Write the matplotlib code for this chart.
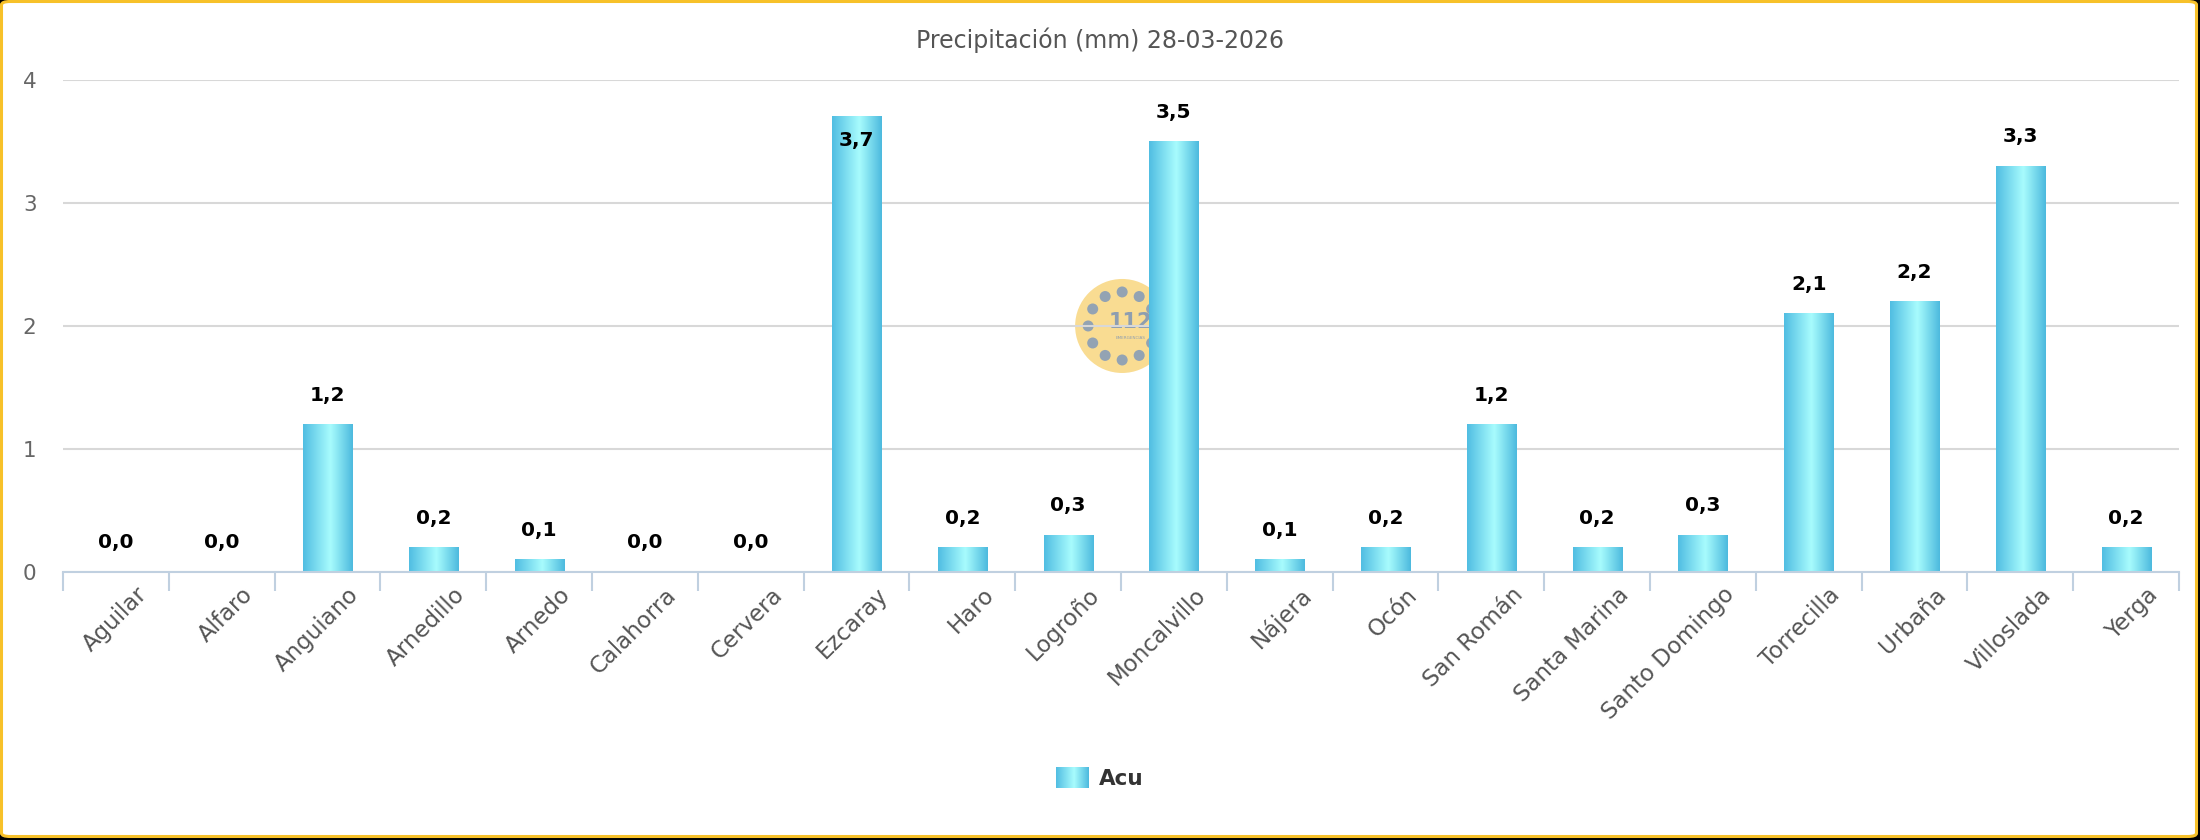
import numpy as np
import matplotlib
matplotlib.use("Agg")
import matplotlib.pyplot as plt
from matplotlib.colors import LinearSegmentedColormap
from matplotlib.patches import Rectangle, FancyBboxPatch, Circle
from matplotlib.legend_handler import HandlerBase
from matplotlib.image import BboxImage
from matplotlib.transforms import Bbox, TransformedBbox, ScaledTranslation

estaciones = ["Aguilar", "Alfaro", "Anguiano", "Arnedillo", "Arnedo", "Calahorra",
              "Cervera", "Ezcaray", "Haro", "Logroño", "Moncalvillo", "Nájera",
              "Ocón", "San Román", "Santa Marina", "Santo Domingo", "Torrecilla",
              "Urbaña", "Villoslada", "Yerga"]
acu = [0.0, 0.0, 1.2, 0.2, 0.1, 0.0, 0.0, 3.7, 0.2, 0.3, 3.5, 0.1,
       0.2, 1.2, 0.2, 0.3, 2.1, 2.2, 3.3, 0.2]
yticks = [0, 1, 2, 3, 4]
titulo = "Precipitación (mm) 28-03-2026"
serie = "Acu"

W, H, DPI = 2200, 840, 100
plt.rcParams['font.family'] = ['DejaVu Sans']

grad_cmap = LinearSegmentedColormap.from_list(
    "barra", [(0.0, "#50bde2"), (0.55, "#a8fcfd"), (1.0, "#4cb9de")])
grad = np.linspace(0, 1, 256).reshape(1, -1)

fig = plt.figure(figsize=(W / DPI, H / DPI), dpi=DPI)
# marco: sombra negra + borde dorado redondeado
fig.patches.append(Rectangle((0, 0), 1, 1, transform=fig.transFigure,
                             facecolor="black", edgecolor="none", zorder=-3))
fig.patches.append(FancyBboxPatch((1.5 / W, 3.5 / H), (W - 5) / W, (H - 5) / H,
                                  boxstyle="round,pad=0,rounding_size=0.004",
                                  transform=fig.transFigure, facecolor="white",
                                  edgecolor="#f7c12a", linewidth=2.2, zorder=-2))

x0, x1, yb, yt = 63, 2179, 572, 80
ax = fig.add_axes([x0 / W, (H - yb) / H, (x1 - x0) / W, (yb - yt) / H])
ax.patch.set_alpha(0)

x = np.arange(len(estaciones))
bars = ax.bar(x, acu, width=0.465, color="#7fd8ef", zorder=2)

# degradado horizontal en cada barra
for b in bars:
    b.set_facecolor("none")
    bx, by, bw, bh = b.get_x(), b.get_y(), b.get_width(), b.get_height()
    if bh > 0:
        ax.imshow(grad, cmap=grad_cmap, aspect="auto", interpolation="bicubic",
                  extent=(bx, bx + bw, by, by + bh), zorder=2)
ax.set_xlim(-0.5, len(estaciones) - 0.5)
ax.set_ylim(0, 4)

# etiquetas de datos
px_per_unit = (yb - yt) / 4
for xi, v in zip(x, acu):
    txt = f"{v:.1f}".replace(".", ",")
    top_px = yb - v * px_per_unit
    if top_px - 29 - 12 < yt:
        dy = -17
    else:
        dy = 21
    ax.annotate(txt, (xi, v), xytext=(0, dy), textcoords="offset points",
                ha="center", va="center", fontsize=14.5, fontweight="bold",
                color="black", zorder=4)

# ejes
for s in ["top", "right", "left"]:
    ax.spines[s].set_visible(False)
ax.spines["bottom"].set_color("#c0d0e0")
ax.spines["bottom"].set_linewidth(1.5)
ax.spines["bottom"].set_zorder(3)
ax.set_xticks(np.arange(-0.5, len(estaciones)), labels=[])
ax.tick_params(axis="x", which="major", length=13.5, width=1.5, color="#c0d0e0")
ax.set_xticks(x, labels=estaciones, minor=True)
ax.tick_params(axis="x", which="minor", length=0, pad=8, labelsize=16.5,
               labelcolor="#555555")
shift = ScaledTranslation(0.2, 0, fig.dpi_scale_trans)
for lab in ax.get_xticklabels(minor=True):
    lab.set_rotation(45)
    lab.set_ha("right")
    lab.set_va("top")
    lab.set_rotation_mode("anchor")
    lab.set_transform(lab.get_transform() + shift)

ax.set_yticks(yticks)
ax.tick_params(axis="y", length=0, pad=19, labelsize=15.5, labelcolor="#666666")
ax.grid(axis="y", color="#d8d8d8", linewidth=1.5)
ax.set_axisbelow(True)

# marca de agua 112
logo = ax.inset_axes([0.5005 - 0.0236, 0.5 - 0.1016, 0.0473, 0.2033], zorder=0.2)
logo.set_xlim(-50, 50)
logo.set_ylim(-50, 50)
logo.axis("off")
logo.add_patch(Circle((0, 0), 47, facecolor="#f9dc92", edgecolor="none"))
for ang in np.arange(0, 360, 30):
    a = np.deg2rad(ang)
    logo.add_patch(Circle((34 * np.cos(a), 34 * np.sin(a)), 5.5,
                          facecolor="#93a3b3", edgecolor="none"))
logo.text(8, 4, "112", ha="center", va="center", fontsize=15, fontweight="bold",
          color="#8e9eb0")
logo.text(8, -12, "EMERGENCIAS", ha="center", va="center", fontsize=3,
          color="#8e9eb0")

fig.text(0.5, (H - 40) / H, titulo, ha="center", va="center", fontsize=17,
         color="#555555")


class GradHandler(HandlerBase):
    def create_artists(self, legend, orig_handle, xdescent, ydescent, width,
                       height, fontsize, trans):
        bb = TransformedBbox(Bbox.from_bounds(-xdescent, -ydescent, width, height), trans)
        img = BboxImage(bb, cmap=grad_cmap, interpolation="bicubic")
        img.set_data(grad)
        return [img]


leg = fig.legend([bars], [serie], loc="center", bbox_to_anchor=(0.5, (H - 778) / H),
                 frameon=False, handler_map={type(bars): GradHandler()},
                 prop={"size": 15.5, "weight": "bold"}, handlelength=1.5,
                 handleheight=1.1, handletextpad=0.5)
for t in leg.get_texts():
    t.set_color("#333333")

fig.savefig("out.png", dpi=DPI)
